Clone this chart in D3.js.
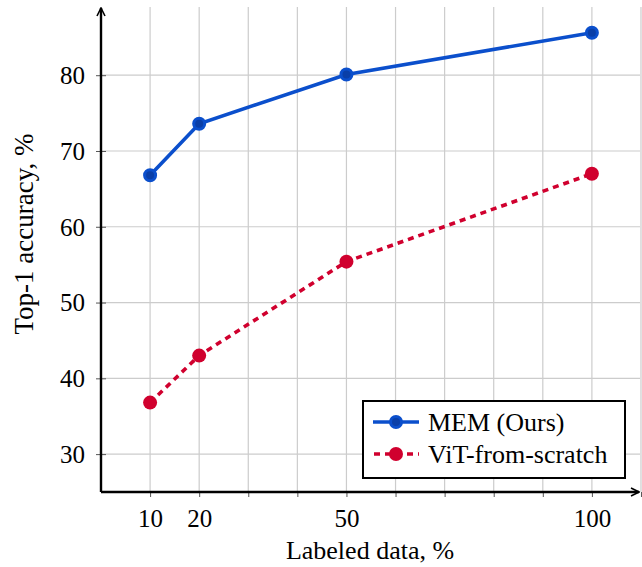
<!DOCTYPE html>
<html>
<head>
<meta charset="utf-8">
<script src="https://cdn.jsdelivr.net/npm/d3@7"></script>
<style>
body { margin: 0; background: #fff; }
text { font-family: "Liberation Serif", "DejaVu Serif", serif; }
</style>
</head>
<body>
<div class="chart"></div>
<script>
// data
const labeled = [10, 20, 50, 100];
const memAcc = [66.8, 73.6, 80.1, 85.6];
const vitAcc = [36.8, 43.0, 55.4, 67.0];
const seriesNames = ["MEM (Ours)", "ViT-from-scratch"];
const xTickLabels = [10, 20, 50, 100];
const yTickLabels = [30, 40, 50, 60, 70, 80];

let outWidth = 642, outHeight = 567;
let margin = {top: 7, right: 2, left: 101, bottom: 75};
let width = outWidth - margin.left - margin.right,
    height = outHeight - margin.top - margin.bottom;

const svg = d3.select(".chart").append("svg")
    .attr("width", outWidth)
    .attr("height", outHeight);

const g = svg.append("g")
    .attr("transform", `translate(${margin.left}, ${margin.top})`);

const x = d3.scaleLinear().domain([0, 109.8]).range([0, width]);
const y = d3.scaleLinear().domain([25, 89]).range([height, 0]);

// grid
const gridX = d3.range(10, 111, 10);
const gridY = d3.range(30, 90, 10);
g.selectAll(".gx").data(gridX).enter().append("line")
    .attr("x1", d => x(d)).attr("x2", d => x(d))
    .attr("y1", 0).attr("y2", height)
    .attr("stroke", "#cccccc").attr("stroke-width", 1.2);
g.selectAll(".gy").data(gridY).enter().append("line")
    .attr("x1", 0).attr("x2", width)
    .attr("y1", d => y(d)).attr("y2", d => y(d))
    .attr("stroke", "#cccccc").attr("stroke-width", 1.2);

// axes
const xAxis = d3.axisBottom(x).tickValues(gridX).tickSize(5)
    .tickFormat(d => xTickLabels.includes(d) ? d : "");
const yAxis = d3.axisLeft(y).tickValues(yTickLabels).tickSize(5)
    .tickFormat(d => d);

const gx = g.append("g").attr("transform", `translate(0, ${height})`).call(xAxis);
gx.select(".domain").remove();
gx.selectAll(".tick line").attr("stroke", "#555").attr("stroke-width", 1);
gx.selectAll(".tick text").attr("font-size", 25).attr("y", 35).attr("dy", 0).attr("fill", "#000");

const gy = g.append("g").call(yAxis);
gy.select(".domain").remove();
gy.selectAll(".tick line").attr("x2", 5).attr("x1", -5).attr("stroke", "#555").attr("stroke-width", 1);
gy.selectAll(".tick text").attr("font-size", 25).attr("x", -16).attr("dy", "0.33em").attr("fill", "#000");

// axis lines with arrows
svg.append("defs").append("marker")
    .attr("id", "arrow").attr("viewBox", "0 0 10 10")
    .attr("refX", 9).attr("refY", 5)
    .attr("markerWidth", 10).attr("markerHeight", 10)
    .attr("markerUnits", "userSpaceOnUse")
    .attr("orient", "auto")
    .append("path").attr("d", "M1,1 L9,5 L1,9").attr("fill", "none")
    .attr("stroke", "#000").attr("stroke-width", 1.6);

g.append("line").attr("x1", 0).attr("x2", width - 1)
    .attr("y1", height).attr("y2", height)
    .attr("stroke", "#000").attr("stroke-width", 2.4).attr("marker-end", "url(#arrow)");
g.append("line").attr("x1", 0).attr("x2", 0)
    .attr("y1", height).attr("y2", 1)
    .attr("stroke", "#000").attr("stroke-width", 2.4).attr("marker-end", "url(#arrow)");

// series
const blue = "#0b4fcc", red = "#d0002e";
const line = d3.line().x(d => x(d[0])).y(d => y(d[1]));
const memPts = labeled.map((d, i) => [d, memAcc[i]]);
const vitPts = labeled.map((d, i) => [d, vitAcc[i]]);

g.append("path").datum(vitPts).attr("d", line)
    .attr("fill", "none").attr("stroke", red).attr("stroke-width", 3.6)
    .attr("stroke-dasharray", "6,5");
g.selectAll(".vit").data(vitPts).enter().append("circle")
    .attr("cx", d => x(d[0])).attr("cy", d => y(d[1])).attr("r", 7)
    .attr("fill", red);

g.append("path").datum(memPts).attr("d", line)
    .attr("fill", "none").attr("stroke", blue).attr("stroke-width", 3.6);
g.selectAll(".mem").data(memPts).enter().append("circle")
    .attr("cx", d => x(d[0])).attr("cy", d => y(d[1])).attr("r", 5.5)
    .attr("fill", "#0a3fa8").attr("stroke", blue).attr("stroke-width", 3);

// axis titles
svg.append("text").attr("x", 370).attr("y", 559)
    .attr("text-anchor", "middle").attr("font-size", 26).text("Labeled data, %");
svg.append("text").attr("transform", "translate(33, 234) rotate(-90)")
    .attr("text-anchor", "middle").attr("font-size", 27).text("Top-1 accuracy, %");

// legend
const leg = svg.append("g").attr("transform", "translate(363, 401)");
leg.append("rect").attr("width", 262).attr("height", 77)
    .attr("fill", "#fff").attr("stroke", "#000").attr("stroke-width", 2);
const rowY = [21, 53];
leg.append("line").attr("x1", 10).attr("x2", 56).attr("y1", rowY[0]).attr("y2", rowY[0])
    .attr("stroke", blue).attr("stroke-width", 3.6);
leg.append("circle").attr("cx", 33).attr("cy", rowY[0]).attr("r", 5.5)
    .attr("fill", "#0a3fa8").attr("stroke", blue).attr("stroke-width", 3);
leg.append("line").attr("x1", 10).attr("x2", 56).attr("y1", rowY[1]).attr("y2", rowY[1])
    .attr("stroke", red).attr("stroke-width", 3.6).attr("stroke-dasharray", "6,5")
    .attr("stroke-dashoffset", -1);
leg.append("circle").attr("cx", 33).attr("cy", rowY[1]).attr("r", 7).attr("fill", red);
leg.selectAll(".lt").data(seriesNames).enter().append("text")
    .attr("x", 65).attr("y", (d, i) => rowY[i]).attr("dy", "0.33em")
    .attr("font-size", 26).text(d => d);
</script>
</body>
</html>
